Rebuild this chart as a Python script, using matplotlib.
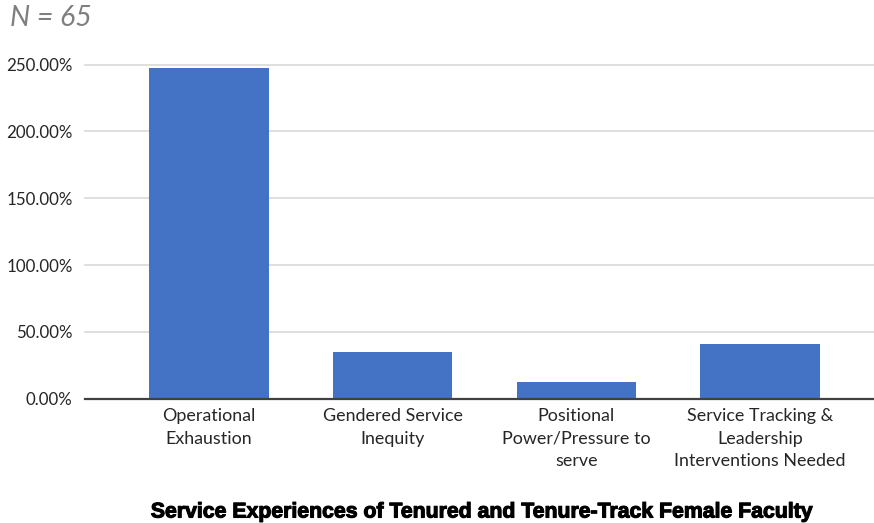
import matplotlib.pyplot as plt
import matplotlib.patheffects as pe
from matplotlib.ticker import FuncFormatter

categories = ["Operational\nExhaustion",
              "Gendered Service\nInequity",
              "Positional\nPower/Pressure to\nserve",
              "Service Tracking &\nLeadership\nInterventions Needed"]
values = [247.7, 35.0, 12.8, 40.8]
yticks = [0, 50, 100, 150, 200, 250]

W, H = 874, 523
fig = plt.figure(figsize=(W / 100, H / 100), dpi=100)
# plot area in pixel units
left, right, top, bottom = 85, 874, 64.5, 398.7
ax = fig.add_axes([left / W, 1 - bottom / H, (right - left) / W, (bottom - top) / H])

x = range(len(categories))
ax.bar(x, values, width=0.65, color="#4472C4", zorder=3)

# bar centres are ~183.7 px apart, first at x=209
pitch = 183.7
ax.set_xlim(-(209 - left) / pitch, 3 + (right - 760.2) / pitch)
ax.set_ylim(0, 250)
ax.set_yticks(yticks)
ax.yaxis.set_major_formatter(FuncFormatter(lambda v, p: f"{v:.2f}%"))
ax.set_xticks(list(x))
ax.set_xticklabels(categories, linespacing=1.5)

ax.grid(axis="y", color="#d9d9d9", lw=1.2, zorder=0, clip_on=False)
for s in ["top", "right", "left"]:
    ax.spines[s].set_visible(False)
ax.spines["bottom"].set_color("#404040")
ax.spines["bottom"].set_linewidth(1.6)
ax.spines["bottom"].set_zorder(4)

ax.tick_params(axis="both", length=0, labelcolor="#262626")
ax.tick_params(axis="y", pad=9, labelsize=12.2)
ax.tick_params(axis="x", pad=7, labelsize=12.9)
for lab in ax.get_yticklabels() + ax.get_xticklabels():
    lab.set_family("Lato")

fig.text(10 / W, 1 - 18 / H, "N = 65", fontsize=20.5, style="italic",
         color="#7f7f7f", family="Lato", va="center", ha="left")
fig.text(483 / W, 1 - 512 / H,
         "Service Experiences of Tenured and Tenure-Track Female Faculty",
         fontsize=15.3, fontweight="bold", family="Liberation Sans",
         ha="center", va="center", color="black",
         path_effects=[pe.withStroke(linewidth=0.8, foreground="black")])

fig.savefig("out.png", dpi=100)
